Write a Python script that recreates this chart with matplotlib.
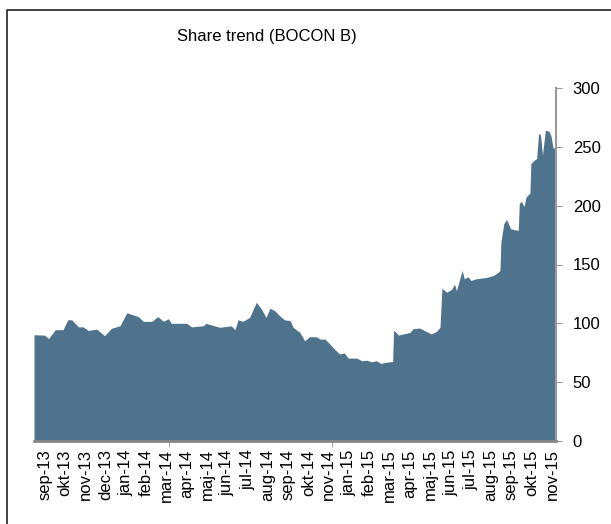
import numpy as np
import matplotlib
matplotlib.use("Agg")
import matplotlib.pyplot as plt
from matplotlib.lines import Line2D

plt.rcParams['font.family'] = ['Liberation Sans', 'DejaVu Sans']

# trading-day index and closing price
days = [0, 11, 15, 22, 30, 35, 39, 46, 51, 56, 65, 73, 80, 89, 96, 108, 113,
        122, 128, 134, 139, 142, 158, 163, 175, 178, 192, 204, 208, 211, 216,
        223, 230, 235, 240, 244, 249, 254, 259, 265, 268, 275, 280, 285, 292,
        296, 301, 306, 311, 316, 321, 325, 334, 339, 344, 349, 354, 359, 365,
        371, 372, 377, 382, 389, 392, 399, 406, 411, 416, 420, 422, 427, 432,
        435, 437, 440, 443, 445, 449, 452, 457, 468, 475, 480, 482, 483, 486,
        489, 493, 497, 501, 502, 504, 507, 509, 513, 514, 518, 520, 522, 524,
        526, 529, 533, 535, 537, 540]
price = [90.3, 90, 87, 94.6, 94.6, 103, 103, 97, 97, 94, 95, 89.5, 95.7, 98,
         109, 105.7, 101.7, 101.7, 105.7, 101.7, 103.9, 100, 100, 97, 97.9,
         100, 96.6, 97.9, 94.6, 103, 101.7, 105, 117.9, 112.5, 105, 112.8,
         110.8, 106.5, 103, 102.3, 96.6, 92.3, 85.2, 88.6, 88.6, 86.6, 86.6,
         82.4, 78, 74, 74.8, 70.5, 70.4, 68.2, 68.7, 67.3, 68.2, 65.9, 67,
         67.5, 94.3, 90, 91, 92.3, 95.4, 96, 93, 91, 93, 96.6, 129.8, 126.4,
         128.9, 133.3, 127.8, 136.4, 144.9, 137.8, 139.6, 136.4, 137.8, 139,
         140.6, 143.3, 144.9, 169, 184.7, 188.3, 180.4, 179.6, 179, 201.7,
         203.7, 199.4, 207.4, 210.7, 235.8, 239, 240, 261.4, 260, 243, 264.2,
         263, 258.5, 248.6, 250.6]

month_labels = ['sep-13', 'okt-13', 'nov-13', 'dec-13', 'jan-14', 'feb-14',
                'mar-14', 'apr-14', 'maj-14', 'jun-14', 'jul-14', 'aug-14',
                'sep-14', 'okt-14', 'nov-14', 'jan-15', 'feb-15', 'mar-15',
                'apr-15', 'maj-15', 'jun-15', 'jul-15', 'aug-15', 'sep-15',
                'okt-15', 'nov-15']
label_days = [11 + 21 * i for i in range(len(month_labels))]
y_ticks = [0, 50, 100, 150, 200, 250, 300]

fill_color = '#50738d'
axis_gray = '#999999'

fig = plt.figure(figsize=(6.11, 5.24), dpi=100)
ax = fig.add_axes([34/611, 1 - 441/524, (556 - 34)/611, (441 - 88)/524])

ax.fill_between(days, price, 0, color=fill_color, linewidth=0)
ax.set_xlim(0, 540)
ax.set_ylim(0, 300)

ax.yaxis.tick_right()
ax.set_yticks(y_ticks)
ax.tick_params(axis='y', direction='out', length=4, color=axis_gray,
               labelsize=12, pad=8)

ax.set_xticks(label_days)
ax.set_xticklabels(month_labels, rotation=90)
ax.tick_params(axis='x', length=0, labelsize=12, pad=6)
ax.set_xticks([140, 308], minor=True)
ax.tick_params(axis='x', which='minor', length=4, color=axis_gray)

for s in ['top', 'left']:
    ax.spines[s].set_visible(False)
ax.spines['right'].set_color(axis_gray)
ax.spines['right'].set_linewidth(1.5)
ax.spines['bottom'].set_color('#888888')
ax.spines['bottom'].set_linewidth(2)

fig.text(267/611, 1 - 37/524, 'Share trend (BOCON B)', ha='center',
         va='center', fontsize=12)

# outer frame (partly cut off at right and bottom)
fig.add_artist(Line2D([7/611, 7/611, 1.0], [0.0, 1 - 10/524, 1 - 10/524],
                      transform=fig.transFigure, color='#333333', linewidth=1.3))

fig.savefig('out.png', dpi=100)
